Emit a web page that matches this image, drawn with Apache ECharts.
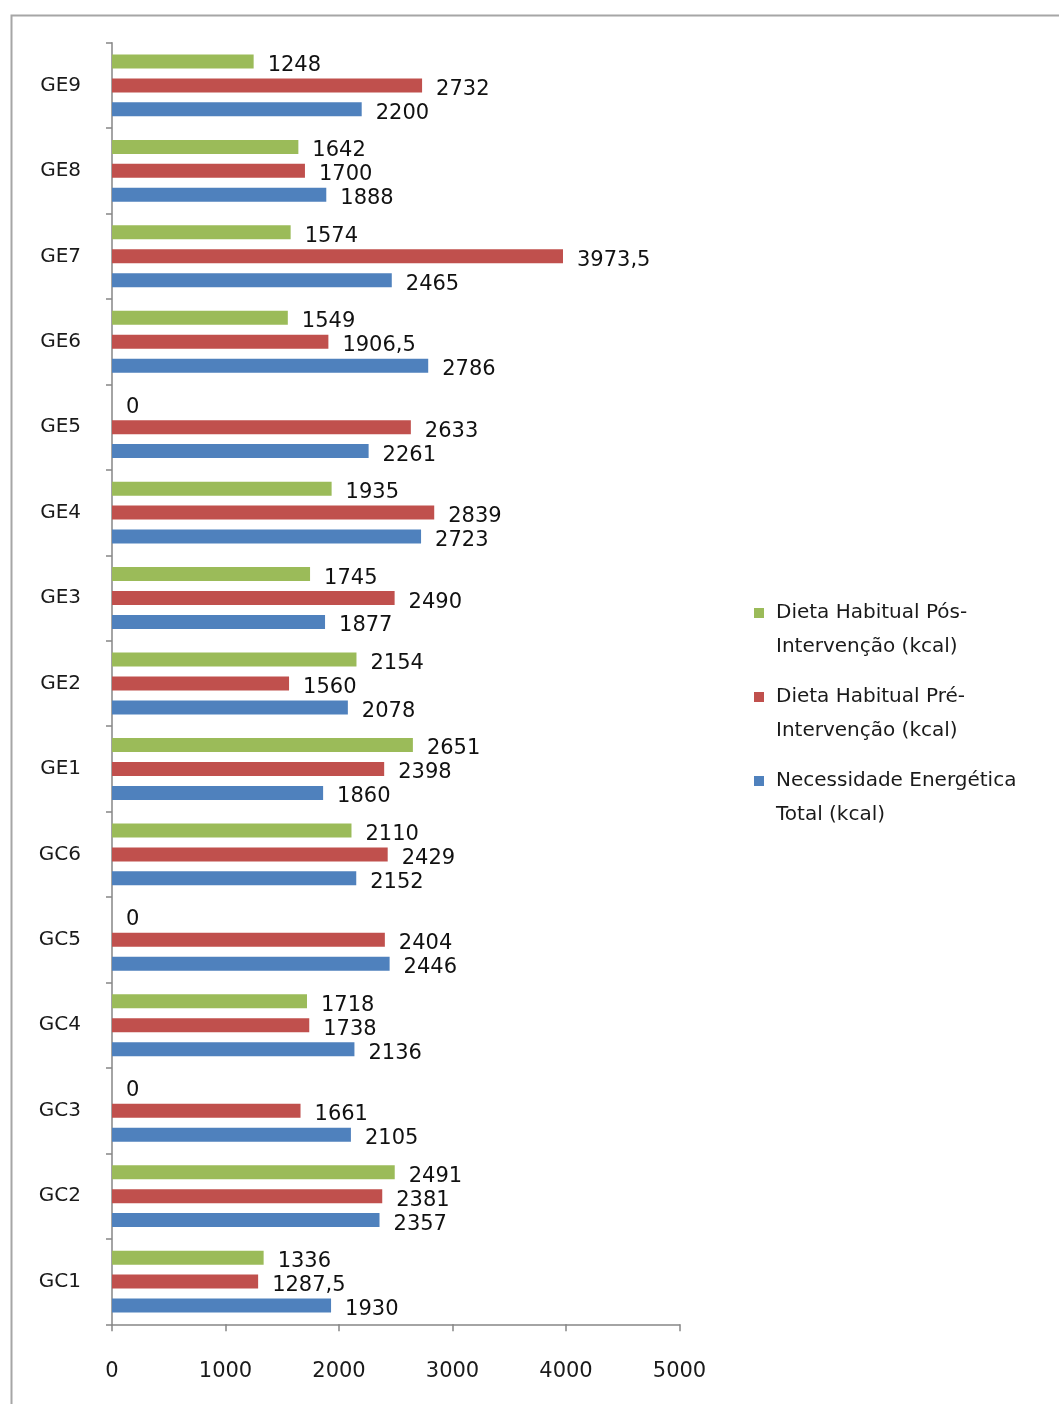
<!DOCTYPE html>
<html>
<head>
<meta charset="utf-8">
<script src="https://cdn.jsdelivr.net/npm/echarts@6/dist/echarts.min.js"></script>
<style>
html,body{margin:0;padding:0;background:#fff;}
#chart{width:1059px;height:1404px;}
</style>
</head>
<body>
<div id="chart"></div>
<script>
const categories = ['GC1','GC2','GC3','GC4','GC5','GC6','GE1','GE2','GE3','GE4','GE5','GE6','GE7','GE8','GE9'];
const posIntervencao = [1336, 2491, 0, 1718, 0, 2110, 2651, 2154, 1745, 1935, 0, 1549, 1574, 1642, 1248];
const preIntervencao = [1287.5, 2381, 1661, 1738, 2404, 2429, 2398, 1560, 2490, 2839, 2633, 1906.5, 3973.5, 1700, 2732];
const necessidade = [1930, 2357, 2105, 2136, 2446, 2152, 1860, 2078, 1877, 2723, 2261, 2786, 2465, 1888, 2200];
const xTicks = [0, 1000, 2000, 3000, 4000, 5000];

const seriesNames = ['Dieta Habitual Pós-Intervenção (kcal)', 'Dieta Habitual Pré-Intervenção (kcal)', 'Necessidade Energética Total (kcal)'];
const legendLines = {
  'Dieta Habitual Pós-Intervenção (kcal)': ['Dieta Habitual Pós-', 'Intervenção (kcal)', 'sqG'],
  'Dieta Habitual Pré-Intervenção (kcal)': ['Dieta Habitual Pré-', 'Intervenção (kcal)', 'sqR'],
  'Necessidade Energética Total (kcal)': ['Necessidade Energética', 'Total (kcal)', 'sqB']
};
const colors = ['#9BBB59', '#C0504D', '#4F81BD'];
const FONT = 'DejaVu Sans';

function fmt(v){ return String(v).replace('.', ','); }

const chart = echarts.init(document.getElementById('chart'), null, {renderer:'canvas'});
function mkSeries(name, data, color){
  return {
    name: name, type: 'bar', data: data,
    barWidth: 14, barGap: '71%',
    itemStyle: {color: color},
    label: {show: true, position: 'right', distance: 14, offset: [0, 4],
      formatter: p => fmt(p.value), color: '#111', fontFamily: FONT, fontSize: 21},
    emphasis: {disabled: true}
  };
}
const sqStyle = c => ({width: 10, height: 10, backgroundColor: c, verticalAlign: 'middle', lineHeight: 34});
chart.setOption({
  animation: false,
  backgroundColor: '#fff',
  grid: {left: 112, top: 42.7, width: 567.5, height: 1281.6, containLabel: false},
  xAxis: {
    type: 'value', min: 0, max: 5000, interval: 1000,
    axisLine: {show: true, lineStyle: {color: '#868686', width: 1.5}},
    axisTick: {show: true, length: 7, lineStyle: {color: '#868686', width: 1.5}},
    splitLine: {show: false},
    axisLabel: {margin: 37, color: '#1a1a1a', fontFamily: FONT, fontSize: 21,
      customValues: xTicks, formatter: v => String(v)}
  },
  yAxis: {
    type: 'category', data: categories,
    axisLine: {show: true, lineStyle: {color: '#868686', width: 1.5}},
    axisTick: {show: true, length: 6, lineStyle: {color: '#868686', width: 1.5}},
    axisLabel: {margin: 31, color: '#1a1a1a', fontFamily: FONT, fontSize: 20}
  },
  legend: {
    orient: 'vertical', left: 749, top: 596, padding: 0,
    itemGap: 16, itemWidth: 0, itemHeight: 10, icon: 'none',
    selectedMode: false,
    data: seriesNames,
    formatter: name => {
      const l = legendLines[name];
      return '{' + l[2] + '|}{g|}{t|' + l[0] + '}\n{g2|}{t|' + l[1] + '}';
    },
    textStyle: {
      fontFamily: FONT, fontSize: 20, color: '#1a1a1a', lineHeight: 34,
      rich: {
        sqG: sqStyle(colors[0]), sqR: sqStyle(colors[1]), sqB: sqStyle(colors[2]),
        g: {width: 12, lineHeight: 34},
        g2: {width: 22, lineHeight: 34},
        t: {fontFamily: FONT, fontSize: 20, color: '#1a1a1a', lineHeight: 34}
      }
    }
  },
  graphic: [{type: 'rect', left: 9, top: 13, shape: {width: 1200, height: 1500},
    style: {fill: 'none', stroke: '#A6A6A6', lineWidth: 2}, silent: true, z: -1}],
  series: [
    mkSeries(seriesNames[0], posIntervencao, colors[0]),
    mkSeries(seriesNames[1], preIntervencao, colors[1]),
    mkSeries(seriesNames[2], necessidade, colors[2])
  ]
});
</script>
</body>
</html>
